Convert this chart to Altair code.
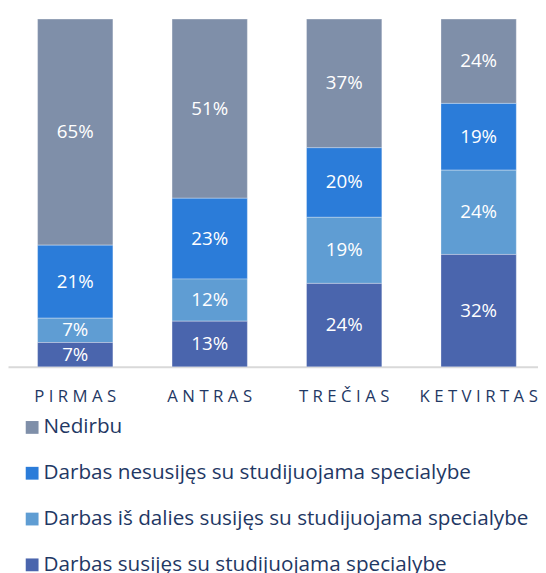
import altair as alt
import pandas as pd

categories = ["PIRMAS", "ANTRAS", "TREČIAS", "KETVIRTAS"]
series = [
    "Nedirbu",
    "Darbas nesusijęs su studijuojama specialybe",
    "Darbas iš dalies susijęs su studijuojama specialybe",
    "Darbas susijęs su studijuojama specialybe",
]
nedirbu = [65, 51, 37, 24]
nesusijes = [21, 23, 20, 19]
is_dalies = [7, 12, 19, 24]
susijes = [7, 13, 24, 32]
colors = ["#7f8fa9", "#2b7cd9", "#5f9dd3", "#4a65ad"]

values = [nedirbu, nesusijes, is_dalies, susijes]
rows = []
for si, (s, vals) in enumerate(zip(series, values)):
    for c, v in zip(categories, vals):
        rows.append({"cat": c, "series": s, "value": v, "order": 3 - si})
df = pd.DataFrame(rows)

FONT = "Open Sans"
TXT = "#1f3864"

xenc = alt.X(
    "cat:N",
    sort=categories,
    title=None,
    scale=alt.Scale(paddingInner=0.44, paddingOuter=0.22),
    axis=alt.Axis(
        labelAngle=0,
        labelFont=FONT,
        labelFontSize=17,
        labelColor=TXT,
        labelPadding=22,
        labelExpr="join(split(datum.label, ''), '\u2009\u200a')",
        ticks=False,
        domainColor="#d9d9d9",
        domainWidth=2,
        grid=False,
    ),
)

base = alt.Chart(df).transform_stack(
    stack="value",
    groupby=["cat"],
    sort=[alt.SortField("order", order="ascending")],
    as_=["y0", "y1"],
    offset="normalize",
).transform_calculate(mid="(datum.y0 + datum.y1) / 2", lbl="datum.value + '%'")

bars = base.mark_bar(stroke="white", strokeWidth=0.6, strokeOpacity=0.5).encode(
    x=xenc,
    y=alt.Y("y0:Q", axis=None, scale=alt.Scale(domain=[0, 1], nice=False)),
    y2="y1:Q",
    color=alt.Color(
        "series:N",
        scale=alt.Scale(domain=series, range=colors),
        legend=alt.Legend(
            title=None,
            orient="none",
            legendX=14,
            legendY=404,
            direction="vertical",
            symbolType="square",
            symbolSize=169,
            symbolStrokeWidth=0,
            labelFont=FONT,
            labelFontSize=21,
            labelColor=TXT,
            labelOffset=1,
            rowPadding=24.5,
            padding=0,
            labelLimit=600,
        ),
    ),
)

labels = base.mark_text(font=FONT, fontSize=19, color="white", baseline="middle").encode(
    x=alt.X("cat:N", sort=categories),
    y=alt.Y("mid:Q"),
    text="lbl:N",
)

chart = (
    alt.layer(bars, labels)
    .properties(
        width=546,
        height=353,
        autosize=alt.AutoSizeParams(type="none"),
        padding={"left": 0, "top": 7, "right": -8, "bottom": 205},
    )
    .configure_view(stroke=None)
)

chart.save("out.html", embed_options={"renderer": "svg", "actions": False})
